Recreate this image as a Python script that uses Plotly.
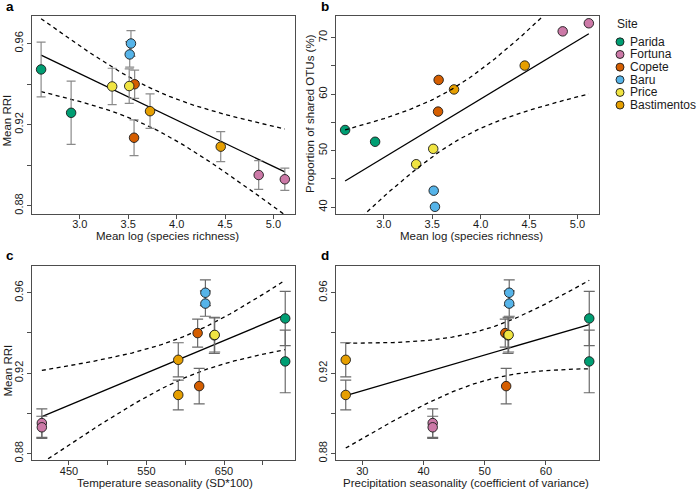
import numpy as np
import plotly.graph_objects as go

# ---------------- data ----------------
SITES = ["Parida", "Fortuna", "Copete", "Baru", "Price", "Bastimentos"]
SITE_COLORS = ["#009E73", "#CC79A7", "#D55E00", "#56B4E9", "#F0E442", "#E69F00"]

sample_site = ["Parida", "Parida", "Fortuna", "Fortuna", "Copete", "Copete",
               "Baru", "Baru", "Price", "Price", "Bastimentos", "Bastimentos"]
log_richness = [2.60, 2.91, 4.847, 5.117, 3.566, 3.560,
                3.528, 3.515, 3.334, 3.510, 3.725, 4.455]
rri_mean = [0.9472, 0.9258, 0.8951, 0.8930, 0.9399, 0.9135,
            0.9600, 0.9546, 0.9388, 0.9390, 0.9266, 0.9091]
rri_err = [0.0135, 0.0156, 0.0071, 0.0055, 0.0070, 0.0088,
           0.0064, 0.0063, 0.0090, 0.0085, 0.0085, 0.0074]
shared_otus = [53.66, 51.58, 71.12, 72.55, 62.52, 56.92,
               40.07, 42.92, 47.60, 50.33, 60.84, 65.06]
temp_seasonality = [729, 729, 415, 415, 616, 618,
                    626, 626, 637.5, 638, 591, 591]
precip_seasonality = [67.07, 67.07, 41.5, 41.5, 53.35, 53.5,
                      54.0, 54.0, 53.8, 53.9, 27.3, 27.3]

X_TITLES = ["Mean log (species richness)", "Mean log (species richness)",
            "Temperature seasonality (SD*100)",
            "Precipitation seasonality (coefficient of variance)"]
Y_TITLES = ["Mean RRI", "Proportion of shared OTUs (%)", "Mean RRI", None]
PANEL_LETTERS = ["a", "b", "c", "d"]
T_CRIT_DF10 = 2.228  # two-sided 95% t quantile, n-2 = 10

# ---------------- helpers ----------------
W, H = 698, 496
def fx(p):
    return p / W
def fy(p):
    return 1 - p / H

FONT = "Liberation Sans, Arial, Helvetica, sans-serif"
TXT = "#1a1a1a"
FRAME = "#4d4d4d"


def ols_band(x, y):
    x = np.asarray(x, float)
    y = np.asarray(y, float)
    n = len(x)
    b1, b0 = np.polyfit(x, y, 1)
    xs = np.linspace(x.min(), x.max(), 120)
    fit = b0 + b1 * xs
    resid = y - (b0 + b1 * x)
    s = np.sqrt(np.sum(resid ** 2) / (n - 2))
    sxx = np.sum((x - x.mean()) ** 2)
    se = s * np.sqrt(1.0 / n + (xs - x.mean()) ** 2 / sxx)
    return xs, fit, fit - T_CRIT_DF10 * se, fit + T_CRIT_DF10 * se


fig = go.Figure()

panels = [
    dict(x=log_richness, y=rri_mean, err=rri_err, lines_on_top=False, cap=4.5),
    dict(x=log_richness, y=shared_otus, err=None, lines_on_top=True, cap=0),
    dict(x=temp_seasonality, y=rri_mean, err=rri_err, lines_on_top=False, cap=5.5),
    dict(x=precip_seasonality, y=rri_mean, err=rri_err, lines_on_top=False, cap=5.5),
]


def add_lines(i, p):
    xs, fit, lo, hi = ols_band(p["x"], p["y"])
    ax = "" if i == 0 else str(i + 1)
    for yy, dash in [(fit, "solid"), (lo, "4px,3.5px"), (hi, "4px,3.5px")]:
        fig.add_trace(go.Scatter(x=xs, y=yy, mode="lines", showlegend=False,
                                 line=dict(color="black", width=1.3, dash=dash),
                                 hoverinfo="skip", xaxis="x" + ax, yaxis="y" + ax))


def add_points(i, p):
    ax = "" if i == 0 else str(i + 1)
    err_col = "#8a8a8a" if i == 0 else "#6a6a6a"
    for site, col in zip(SITES, SITE_COLORS):
        idx = [k for k, s in enumerate(sample_site) if s == site]
        xx = [p["x"][k] for k in idx]
        yy = [p["y"][k] for k in idx]
        tr = dict(x=xx, y=yy, mode="markers", name=site, showlegend=False,
                  marker=dict(size=9.5, color=col, line=dict(color="#1a1a1a", width=0.9)),
                  xaxis="x" + ax, yaxis="y" + ax)
        if p["err"] is not None:
            tr["error_y"] = dict(type="data", array=[p["err"][k] for k in idx],
                                 visible=True, color=err_col, thickness=1.2,
                                 width=p["cap"])
        fig.add_trace(go.Scatter(**tr))


for i, p in enumerate(panels):
    if p["lines_on_top"]:
        add_points(i, p)
        add_lines(i, p)
    else:
        add_lines(i, p)
        add_points(i, p)

# ---------------- axes ----------------
dom_x = {"L": [fx(32), fx(295)], "R": [fx(336), fx(599)]}
dom_y = {"T": [fy(215), fy(16)], "B": [fy(462.3), fy(266.7)]}

common = dict(showgrid=False, zeroline=False, showline=True, linecolor=FRAME,
              linewidth=1, mirror=True, ticks="outside", ticklen=4,
              tickcolor=FRAME, tickwidth=1,
              tickfont=dict(family=FONT, size=11, color=TXT))

xaxes = [
    dict(domain=dom_x["L"], range=[2.506, 5.222], tick0=3.0, dtick=0.5, anchor="y",
         tickformat=".1f"),
    dict(domain=dom_x["R"], range=[2.506, 5.222], tick0=3.0, dtick=0.5, anchor="y2",
         tickformat=".1f"),
    dict(domain=dom_x["L"], range=[402.3, 741.6], tick0=450, dtick=100, anchor="y3",
         minor=dict(dtick=50, tick0=450, ticks="outside", ticklen=4, tickcolor=FRAME)),
    dict(domain=dom_x["R"], range=[25.71, 68.66], tick0=30, dtick=10, anchor="y4"),
]
yaxes = [
    dict(domain=dom_y["T"], range=[0.8758, 0.9736], tick0=0.88, dtick=0.04, anchor="x",
         minor=dict(dtick=0.02, tick0=0.88, ticks="outside", ticklen=4, tickcolor=FRAME)),
    dict(domain=dom_y["T"], range=[38.77, 73.85], tick0=40, dtick=10, anchor="x2",
         minor=dict(dtick=5, tick0=40, ticks="outside", ticklen=4, tickcolor=FRAME)),
    dict(domain=dom_y["B"], range=[0.8765, 0.9735], tick0=0.88, dtick=0.04, anchor="x3",
         minor=dict(dtick=0.02, tick0=0.88, ticks="outside", ticklen=4, tickcolor=FRAME)),
    dict(domain=dom_y["B"], range=[0.8765, 0.9735], tick0=0.88, dtick=0.04, anchor="x4",
         minor=dict(dtick=0.02, tick0=0.88, ticks="outside", ticklen=4, tickcolor=FRAME)),
]

layout = dict(width=W, height=H, margin=dict(l=0, r=0, t=0, b=0),
              paper_bgcolor="white", plot_bgcolor="white", showlegend=False,
              font=dict(family=FONT, color=TXT))
for i in range(4):
    key = "" if i == 0 else str(i + 1)
    xa = dict(common); xa.update(xaxes[i]); xa["tickmode"] = "linear"
    xa["ticklabelstandoff"] = -4
    ya = dict(common); ya.update(yaxes[i]); ya["tickmode"] = "linear"; ya["tickangle"] = -90
    layout["xaxis" + key] = xa
    layout["yaxis" + key] = ya

annotations = []
# axis titles
xt_pos = [(167, 237), (471, 237), (165, 484.5), (466, 484.5)]
for t, (x, y) in zip(X_TITLES, xt_pos):
    annotations.append(dict(text=t, x=fx(x), y=fy(y), xref="paper", yref="paper",
                            showarrow=False, xanchor="center", yanchor="middle",
                            font=dict(family=FONT, size=11.5, color=TXT)))
yt_pos = [(7, 121), (309.5, 114), (7, 372), None]
for t, pos in zip(Y_TITLES, yt_pos):
    if t is None:
        continue
    annotations.append(dict(text=t, x=fx(pos[0]), y=fy(pos[1]), xref="paper", yref="paper",
                            showarrow=False, textangle=-90, xanchor="center", yanchor="middle",
                            font=dict(family=FONT, size=11.5, color=TXT)))
# panel letters
for t, (x, y) in zip(PANEL_LETTERS, [(9.5, 6.5), (325, 6.5), (9.5, 256.5), (324.5, 256.5)]):
    annotations.append(dict(text="<b>%s</b>" % t, x=fx(x), y=fy(y), xref="paper", yref="paper",
                            showarrow=False, xanchor="center", yanchor="middle", borderpad=0,
                            font=dict(family=FONT, size=13.5, color="black")))
# legend (drawn manually)
annotations.append(dict(text="Site", x=fx(614.5), y=fy(24.5), xref="paper", yref="paper",
                        showarrow=False, xanchor="left", yanchor="middle",
                        font=dict(family=FONT, size=12, color=TXT)))
shapes = []
for k, (site, col) in enumerate(zip(SITES, SITE_COLORS)):
    yc = 42 + k * 12.7
    shapes.append(dict(type="circle", xref="paper", yref="paper",
                       xsizemode="pixel", ysizemode="pixel",
                       xanchor=fx(620), yanchor=fy(yc), x0=-4, x1=4, y0=-4, y1=4,
                       fillcolor=col, line=dict(color="#1a1a1a", width=0.9)))
    annotations.append(dict(text=site, x=fx(627.5), y=fy(yc), xref="paper", yref="paper",
                            showarrow=False, xanchor="left", yanchor="middle",
                            font=dict(family=FONT, size=12, color=TXT)))

layout["annotations"] = annotations
layout["shapes"] = shapes
fig.update_layout(**layout)

fig.write_html("out.html", config={"displayModeBar": False},
               post_script="document.body.style.margin='0px';document.body.style.padding='0px';")
